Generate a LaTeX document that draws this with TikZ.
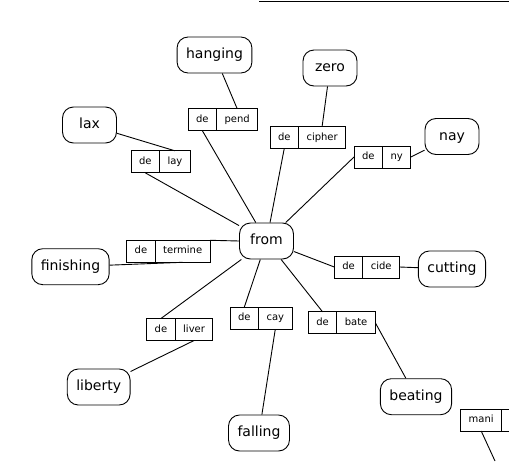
\documentclass[tikz,border=0pt]{standalone}
\usepackage{fontspec}
\setmainfont{DejaVu Sans}
\tikzset{
  big/.style={draw, line width=0.9pt, rounded corners=11pt, minimum width=54pt, minimum height=36pt,
    inner xsep=9pt, inner ysep=0pt, font=\fontsize{14}{16}\selectfont, text height=10.5pt, text depth=3.5pt},
  fld/.style={draw, line width=0.9pt, outer sep=0pt, minimum height=22pt, inner xsep=8pt, inner ysep=0pt,
    font=\fontsize{10}{12}\selectfont, text height=7.5pt, text depth=2.5pt},
  conn/.style={line width=0.9pt}
}
\newcommand\recrd[4]{%
  \node[fld, anchor=west] (#1de) at (#2,#3) {de};
  \node[fld, anchor=west] (#1r) at (#1de.east) {#4};
}
\begin{document}
\begin{tikzpicture}[x=1pt,y=-1pt]
\useasboundingbox (0,0) rectangle (509,461);
% big nodes
\node[big] (from) at (266.5,241) {from};
\node[big] (hanging) at (214.5,55) {hanging};
\node[big] (zero) at (330,68) {zero};
\node[big] (lax) at (89.5,125) {lax};
\node[big] (nay) at (452,136.5) {nay};
\node[big] (finishing) at (70.5,266.7) {finishing};
\node[big] (cutting) at (452,269) {cutting};
\node[big] (liberty) at (98.7,387) {liberty};
\node[big] (beating) at (416,396.7) {beating};
\node[big] (falling) at (259,433) {falling};
% records
\recrd{pend}{188}{119.5}{pend}
\recrd{cipher}{270}{137.5}{cipher}
\recrd{lay}{131}{161.8}{lay}
\recrd{ny}{354}{157}{ny}
\recrd{termine}{126.7}{251.3}{termine}
\recrd{cide}{334.3}{267}{cide}
\recrd{liver}{146.7}{329.5}{liver}
\recrd{cay}{230}{318.3}{cay}
\recrd{bate}{308.3}{322.8}{bate}
\node[fld, anchor=west] (manide) at (460.7,420) {mani};
\node[fld, anchor=west, minimum width=40pt] (manix) at (manide.east) {};
% connectors
\draw[conn] (pendde.south) -- (from);
\draw[conn] (pendr.north) -- (hanging);
\draw[conn] (cipherde.south) -- (from);
\draw[conn] (cipherr.north) -- (zero);
\draw[conn] (layde.south) -- (from);
\draw[conn] (layr.north) -- (lax);
\draw[conn] (nyde.west) -- (from);
\draw[conn] (nyr.east) -- (nay);
\draw[conn] (from.west) -- (terminer.north east);
\draw[conn] (terminer.south) -- (finishing);
\draw[conn] (cidede.west) -- (from);
\draw[conn] (cider.east) -- (cutting);
\draw[conn] (liverde.north) -- (from);
\draw[conn] (liverr.south) -- (liberty);
\draw[conn] (cayde.north) -- (from);
\draw[conn] (cayr.south) -- (falling);
\draw[conn] (batede.north) -- (from);
\draw[conn] (bater.east) -- (beating);
\coordinate (maniend) at (495,461);
\draw[conn] (manide.south) -- (maniend);
\coordinate (topl) at (259,1);
\coordinate (topr) at (509,1);
\draw[conn] (topl) -- (topr);
\end{tikzpicture}
\end{document}
